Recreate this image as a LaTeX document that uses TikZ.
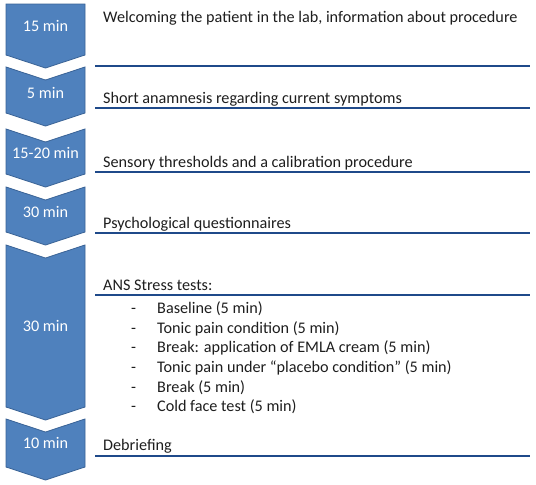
\documentclass[tikz,border=0pt]{standalone}
\usepackage{fontspec}
\setmainfont{Carlito}
\definecolor{chevfill}{HTML}{4F81BD}
\definecolor{chevdraw}{HTML}{3A6396}
\definecolor{rule}{HTML}{1F4A8A}
\definecolor{txt}{HTML}{1E1E1E}
\begin{document}
\begin{tikzpicture}[x=1pt,y=-1pt,
  chev/.style={fill=chevfill,draw=chevdraw,line width=0.8pt,line join=miter},
  chevlabel/.style={text=white,font=\fontsize{16.2}{18}\selectfont,inner sep=0pt},
  stage/.style={anchor=base west,text=txt,font=\fontsize{16.2}{18}\selectfont,inner sep=0pt},
  sepline/.style={draw=rule,line width=2pt}]
\useasboundingbox (0,0) rectangle (536,485);
% chevrons
\draw[chev] (6,4) -- (85,4) -- (85,55) -- (45.5,68) -- (6,55) -- cycle;
\draw[chev] (6,67) -- (45.5,80) -- (85,67) -- (85,113) -- (45.5,126) -- (6,113) -- cycle;
\draw[chev] (6,129) -- (45.5,142) -- (85,129) -- (85,174) -- (45.5,187) -- (6,174) -- cycle;
\draw[chev] (6,187) -- (45.5,200) -- (85,187) -- (85,232) -- (45.5,245) -- (6,232) -- cycle;
\draw[chev] (6,245) -- (45.5,258) -- (85,245) -- (85,407) -- (45.5,420) -- (6,407) -- cycle;
\draw[chev] (6,419) -- (45.5,432) -- (85,419) -- (85,467) -- (45.5,480) -- (6,467) -- cycle;
\node[chevlabel] (l1) at (45.5,26) {15 min};
\node[chevlabel] (l2) at (45.5,93) {5 min};
\node[chevlabel] (l3) at (45.5,153) {15-20 min};
\node[chevlabel] (l4) at (45.5,212) {30 min};
\node[chevlabel] (l5) at (45.5,326) {30 min};
\node[chevlabel] (l6) at (45.5,443) {10 min};
% separator lines
\coordinate (a1) at (95,66);  \coordinate (b1) at (530,66);
\coordinate (a2) at (95,108); \coordinate (b2) at (530,108);
\coordinate (a3) at (95,172); \coordinate (b3) at (530,172);
\coordinate (a4) at (95,233); \coordinate (b4) at (530,233);
\coordinate (a5) at (95,295); \coordinate (b5) at (530,295);
\coordinate (a6) at (95,456); \coordinate (b6) at (530,456);
\foreach \i in {1,...,6} {\draw[sepline] (a\i) -- (b\i);}
% texts
\node[stage] (t1) at (103,22) {Welcoming the patient in the lab, information about procedure};
\node[stage] (t2) at (103,103) {Short anamnesis regarding current symptoms};
\node[stage] (t3) at (103,167) {Sensory thresholds and a calibration procedure};
\node[stage] (t4) at (103,228) {Psychological questionnaires};
\node[stage] (t5) at (103,290) {ANS Stress tests:};
\foreach \y/\s [count=\k] in {313/{Baseline (5 min)},333/{Tonic pain condition (5 min)},352.5/{Break: application of EMLA cream (5 min)},372/{Tonic pain under “placebo condition” (5 min)},392/{Break (5 min)},411.5/{Cold face test (5 min)}} {
  \node[stage] (d\k) at (131,\y) {-};
  \node[stage] (i\k) at (157,\y) {\s};
}
\node[stage] (t6) at (103,450) {Debriefing};
\end{tikzpicture}
\end{document}
